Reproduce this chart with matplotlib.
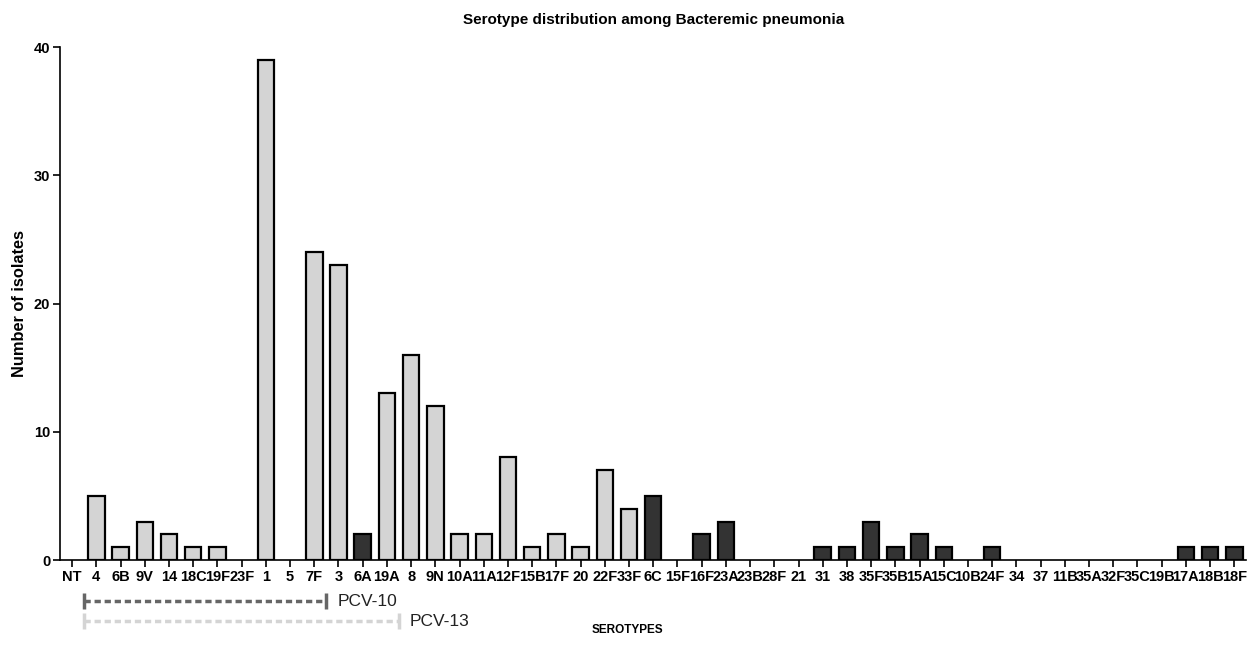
import numpy as np
import matplotlib.pyplot as plt
from matplotlib import transforms

plt.rcParams['font.family'] = ['Liberation Sans', 'DejaVu Sans']

serotypes = ['NT', '4', '6B', '9V', '14', '18C', '19F', '23F', '1', '5', '7F', '3',
             '6A', '19A', '8', '9N', '10A', '11A', '12F', '15B', '17F', '20', '22F',
             '33F', '6C', '15F', '16F', '23A', '23B', '28F', '21', '31', '38', '35F',
             '35B', '15A', '15C', '10B', '24F', '34', '37', '11B', '35A', '32F', '35C',
             '19B', '17A', '18B', '18F']
isolates = [0, 5, 1, 3, 2, 1, 1, 0, 39, 0, 24, 23,
            2, 13, 16, 12, 2, 2, 8, 1, 2, 1, 7,
            4, 5, 0, 2, 3, 0, 0, 0, 1, 1, 3,
            1, 2, 1, 0, 1, 0, 0, 0, 0, 0, 0,
            0, 1, 1, 1]
# serotypes drawn dark
dark = set(['6A', '6C']) | set(serotypes[serotypes.index('15F'):])

LIGHT = '#d4d4d4'
DARK = '#333333'

fig = plt.figure(figsize=(12.59, 6.46), dpi=100)
ax = fig.add_axes([0.0477, 0.133, 0.9423, 0.794])

x = np.arange(len(serotypes))
colors = [DARK if s in dark else LIGHT for s in serotypes]
edges = ['black' if v > 0 else 'none' for v in isolates]
ax.bar(x, isolates, width=0.68, color=colors, edgecolor=edges, linewidth=1.6, zorder=3)

ax.set_xlim(-0.5, len(serotypes) - 0.5)
ax.set_ylim(0, 40)
ax.set_yticks([0, 10, 20, 30, 40])
ax.set_xticks(x)
ax.set_xticklabels(serotypes)
for lab in ax.get_xticklabels() + ax.get_yticklabels():
    lab.set_fontweight('bold')
    lab.set_fontsize(10.5)
ax.tick_params(axis='both', direction='out', length=5, width=1.2, pad=2)
ax.spines['top'].set_visible(False)
ax.spines['right'].set_visible(False)
ax.spines['left'].set_linewidth(1.2)
ax.spines['bottom'].set_linewidth(1.2)

ax.set_ylabel('Number of isolates', fontsize=11.8, fontweight='bold', labelpad=5)
ax.set_title('Serotype distribution among Bacteremic pneumonia', fontsize=11,
             fontweight='bold', pad=17)
fig.text(0.498, 0.024, 'SEROTYPES', fontsize=8.5, fontweight='bold',
         ha='center', va='center')

# vaccine coverage brackets under the axis
trans = transforms.blended_transform_factory(ax.transData, ax.transAxes)
brackets = [('PCV-10', '4', '7F', '#666666', -0.080),
            ('PCV-13', '4', '19A', '#d4d4d4', -0.119)]
for name, first, last, col, yy in brackets:
    x0 = serotypes.index(first) - 0.5
    x1 = serotypes.index(last) + 0.5
    ax.plot([x0, x1], [yy, yy], transform=trans, color=col, lw=2.5,
            ls=(0, (1.8, 1.1)), clip_on=False)
    for xe in (x0, x1):
        ax.plot([xe, xe], [yy - 0.016, yy + 0.016], transform=trans, color=col,
                lw=2.5, clip_on=False, solid_capstyle='butt')
    ax.text(x1 + 0.45, yy, name, transform=trans, fontsize=12.5, color='#222222',
            va='center', ha='left')

fig.savefig('out.png', dpi=100)
